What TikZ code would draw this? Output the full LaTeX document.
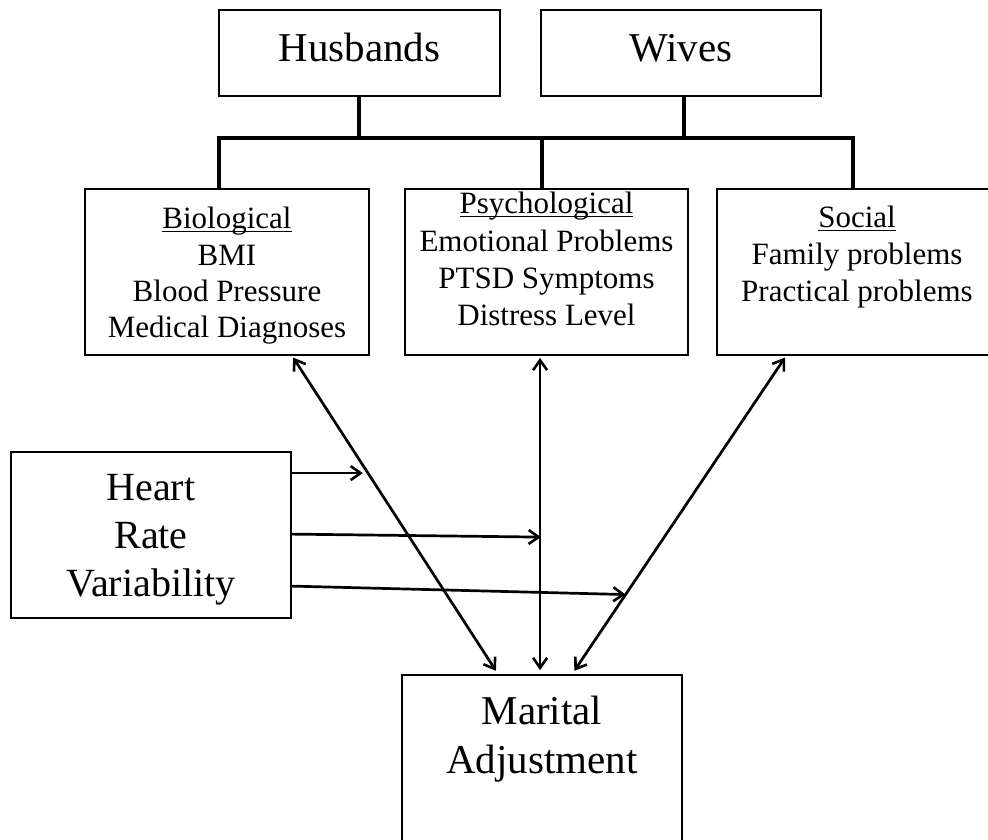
\documentclass[tikz,border=0pt]{standalone}
\usepackage{fontspec}
\setmainfont{Liberation Serif}
\usetikzlibrary{arrows.meta,calc}
\newcommand\myul[1]{\setbox0\hbox{#1}\rlap{\rule[-3.2pt]{\wd0}{1.3pt}}\box0}
\begin{document}
\begin{tikzpicture}[x=1pt,y=-1pt,
  box/.style={draw,line width=1.8pt,rectangle,inner sep=0pt},
  txt/.style={inner sep=0pt,align=center},
  brk/.style={line width=3.3pt},
  tipb/.tip={Straight Barb[length=10pt,width=14pt,line width=2.6pt]},
  arr/.style={line width=2.7pt,-tipb},
  darr/.style={line width=2.7pt,tipb-tipb,shorten <=2pt,shorten >=4pt}]
\useasboundingbox (0,0) rectangle (988,839);
\clip (0,0) rectangle (988,839);
% boxes
\node[box,minimum width=281pt,minimum height=86pt] (hus) at (359.5,53) {};
\node[box,minimum width=280pt,minimum height=86pt] (wiv) at (681,53) {};
\node[box,minimum width=284pt,minimum height=166pt] (bio) at (227,272) {};
\node[box,minimum width=283pt,minimum height=166pt] (psy) at (546.5,272) {};
\node[box,minimum width=280pt,minimum height=166pt] (soc) at (857,272) {};
\node[box,minimum width=280pt,minimum height=166pt] (hrv) at (151,535) {};
\node[box,minimum width=280pt,minimum height=180pt] (mar) at (542,765) {};
% texts
\node[txt,anchor=base,font=\fontsize{41}{49}\selectfont] (hust) at (359.5,61) {Husbands};
\node[txt,anchor=base,font=\fontsize{41}{49}\selectfont] (wivt) at (681,61) {Wives};
\node[txt,anchor=north,font=\fontsize{31}{36.3}\selectfont] (biot) at (227,207)
  {\myul{Biological}\\BMI\\Blood Pressure\\Medical Diagnoses};
\node[txt,anchor=north,font=\fontsize{31}{37.3}\selectfont] (psyt) at (546.5,192)
  {\myul{Psychological}\\Emotional Problems\\PTSD Symptoms\\Distress Level};
\node[txt,anchor=north,font=\fontsize{31}{37}\selectfont] (soct) at (857,206)
  {\myul{Social}\\Family problems\\Practical problems};
\node[txt,anchor=north,font=\fontsize{40}{48}\selectfont] (hrvt) at (151,474)
  {Heart\\Rate\\Variability};
\node[txt,anchor=north,font=\fontsize{41}{49}\selectfont] (mart) at (542,696)
  {Marital\\Adjustment};
% bracket
\coordinate (hb) at ($(hus.south west)+(141,0)$);
\coordinate (wb) at ($(wiv.south west)+(144,0)$);
\coordinate (bt) at ($(bio.north west)+(135,0)$);
\coordinate (pt) at ($(psy.north west)+(138,0)$);
\coordinate (st) at ($(soc.north west)+(137,0)$);
\draw[brk] (hb) -- (hb |- 0,138);
\draw[brk] (wb) -- (wb |- 0,138);
\draw[brk,line cap=rect] (bt) -- (bt |- 0,138) -- (st |- 0,138) -- (st);
\draw[brk] (pt |- 0,138) -- (pt);
% double arrows
\coordinate (b1) at ($(bio.south west)+(208,0)$);
\coordinate (m1) at ($(mar.north west)+(97,0)$);
\coordinate (p2) at ($(psy.south west)+(136,0)$);
\coordinate (m2) at ($(mar.north west)+(139,0)$);
\coordinate (s3) at ($(soc.south west)+(70,0)$);
\coordinate (m3) at ($(mar.north west)+(171,0)$);
\draw[darr] (b1) -- (m1);
\draw[darr] (p2) -- (m2);
\draw[darr] (s3) -- (m3);
% HRV arrows
\coordinate (e1) at ($(hrv.north east)+(71,22)$);
\coordinate (e2) at ($(hrv.north east)+(249,86)$);
\coordinate (e3) at ($(s3)!0.75!(m3)$);
\draw[arr] ($(hrv.north east)+(0,22)$) -- (e1);
\draw[arr] ($(hrv.north east)+(0,83)$) -- (e2);
\draw[arr] ($(hrv.north east)+(0,135)$) -- (e3);
\end{tikzpicture}
\end{document}
